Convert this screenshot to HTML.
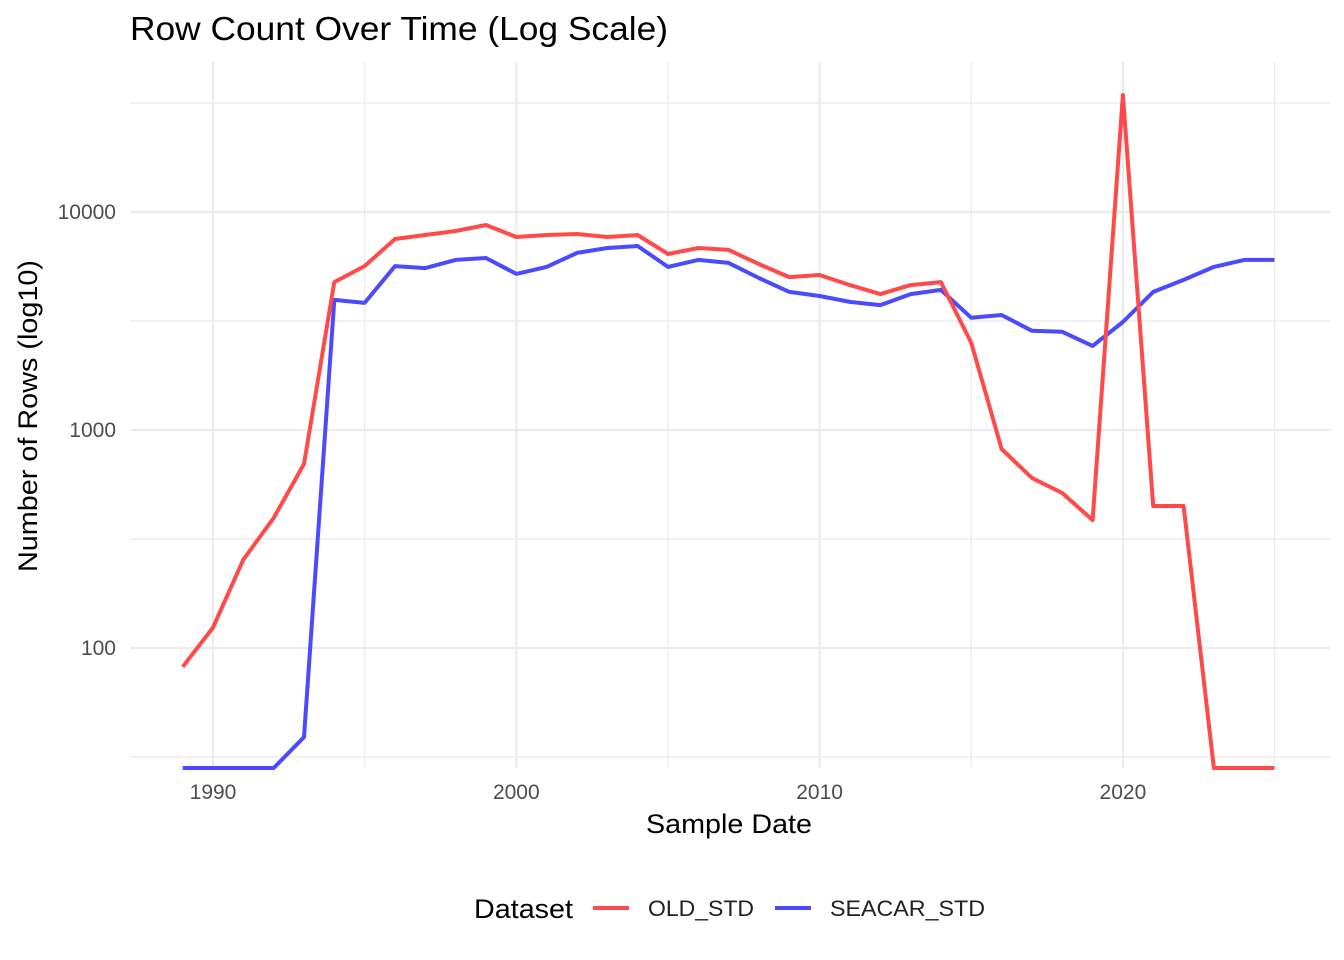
<!DOCTYPE html>
<html><head><meta charset="utf-8"><style>
body{margin:0;background:#fff;font-family:"Liberation Sans",sans-serif;}
svg{display:block}
</style></head><body>
<svg id="chart" width="1344" height="960">
<text x="130" y="40" font-size="33" textLength="538" lengthAdjust="spacingAndGlyphs" fill="#000">Row Count Over Time (Log Scale)</text>
<g id="grid"></g>
<g id="series"></g>
<g id="axes"></g>
<text x="729" y="833" font-size="27" textLength="166" lengthAdjust="spacingAndGlyphs" text-anchor="middle" fill="#000">Sample Date</text>
<text transform="translate(37,416) rotate(-90)" font-size="27" textLength="312" lengthAdjust="spacingAndGlyphs" text-anchor="middle" fill="#000">Number of Rows (log10)</text>
<g>
<text x="474" y="918" font-size="27" textLength="99" lengthAdjust="spacingAndGlyphs" fill="#000">Dataset</text>
<g><line x1="593" y1="908" x2="629" y2="908" stroke="#FF4A4A" stroke-width="4"/><text x="648" y="916" font-size="22" textLength="106" lengthAdjust="spacingAndGlyphs" fill="#222">OLD_STD</text></g>
<g><line x1="775" y1="908" x2="811" y2="908" stroke="#4A4AFF" stroke-width="4"/><text x="830" y="916" font-size="22" textLength="155" lengthAdjust="spacingAndGlyphs" fill="#222">SEACAR_STD</text></g>
</g>
</svg>
<script>
const years=[1989,1990,1991,1992,1993,1994,1995,1996,1997,1998,1999,2000,2001,2002,2003,2004,2005,2006,2007,2008,2009,2010,2011,2012,2013,2014,2015,2016,2017,2018,2019,2020,2021,2022,2023,2024,2025];
const oldStd=[82,124,254,395,698,4770,5650,7520,7840,8180,8720,7680,7840,7930,7680,7840,6420,6840,6700,5770,5030,5140,4620,4200,4620,4770,2510,818,603,514,386,34400,448,448,28,28,28];
const seacarStd=[28,28,28,28,39,3950,3830,5650,5530,6030,6150,5200,5600,6490,6840,6980,5600,6030,5840,4980,4300,4120,3870,3740,4200,4390,3270,3370,2850,2820,2430,3130,4300,4880,5600,6030,6030];
const xTicks=[1990,2000,2010,2020];
const xMinor=[1995,2005,2015,2025];
const yTicks=[100,1000,10000];
const yTickLabels=["100","1000","10000"];
const yMinorLog=[1.5,2.5,3.5,4.5];
const ns="http://www.w3.org/2000/svg";
const X=y=>213+(y-1990)*30.33;
const Y=v=>212-(Math.log10(v)-4)*218;
const L=130,R=1330,T=62,B=768;
function mk(t,a,p){const e=document.createElementNS(ns,t);for(const k in a)e.setAttribute(k,a[k]);p.appendChild(e);return e;}
const grid=document.getElementById('grid'),axes=document.getElementById('axes'),ser=document.getElementById('series');
yMinorLog.forEach(l=>{const y=212-(l-4)*218;const e=mk('line',{x1:L,x2:R,y1:y,y2:y,stroke:'#EBEBEB','stroke-width':1.2},grid);

});
xMinor.forEach(v=>{const e=mk('line',{x1:X(v),x2:X(v),y1:T,y2:B,stroke:'#EBEBEB','stroke-width':1.2},grid);

});
yTicks.forEach((v,i)=>{const e=mk('line',{x1:L,x2:R,y1:Y(v),y2:Y(v),stroke:'#EBEBEB','stroke-width':2.2},grid);


const t=mk('text',{x:116,y:Y(v)+7,'font-size':21,'text-anchor':'end',fill:'#4D4D4D'},axes);t.textContent=yTickLabels[i];

});
xTicks.forEach(v=>{const e=mk('line',{x1:X(v),x2:X(v),y1:T,y2:B,stroke:'#EBEBEB','stroke-width':2.2},grid);


const t=mk('text',{x:X(v),y:799,'font-size':21,'text-anchor':'middle',fill:'#4D4D4D'},axes);t.textContent=v;

});
function line(vals,color,name){const d=vals.map((v,i)=>(i?'L':'M')+X(years[i]).toFixed(1)+','+Math.min(B,Y(v)).toFixed(1)).join(' ');
const p=mk('path',{d:d,fill:'none',stroke:color,'stroke-width':4,'stroke-linejoin':'round'},ser);

}
line(seacarStd,'#4A4AFF','seacar-std-line');
line(oldStd,'#FF4A4A','old-std-line');
</script>
</body></html>
